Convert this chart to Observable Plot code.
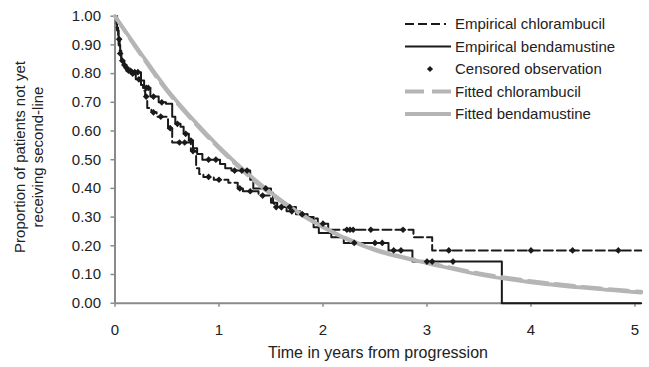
<!DOCTYPE html>
<html>
<head>
<meta charset="utf-8">
<script src="https://cdn.jsdelivr.net/npm/d3@7"></script>
<script src="https://cdn.jsdelivr.net/npm/@observablehq/plot@0.6"></script>
<style>
  html, body { margin: 0; padding: 0; background: #fff; }
  #chart svg { display: block; }
</style>
</head>
<body>
<div id="chart"></div>
<script>
// ---- Data ----
const xTicks = [0, 1, 2, 3, 4, 5];
const yTicks = [0, 0.1, 0.2, 0.3, 0.4, 0.5, 0.6, 0.7, 0.8, 0.9, 1.0];

// Empirical (Kaplan-Meier) bendamustine: step times and survival after each step
const bendaTime = [0, 0.02, 0.035, 0.05, 0.06, 0.09, 0.10, 0.13, 0.17, 0.25, 0.28, 0.34, 0.42, 0.49, 0.55, 0.58, 0.63, 0.66, 0.71, 0.75, 0.79, 0.84, 1.01, 1.06, 1.12, 1.30, 1.33, 1.50, 1.52, 1.56, 1.74, 1.85, 1.91, 1.96, 2.08, 2.20, 2.63, 2.86, 3.72, 5.06];
const bendaSurv = [1.0, 0.95, 0.90, 0.87, 0.845, 0.83, 0.82, 0.81, 0.805, 0.776, 0.75, 0.72, 0.70, 0.695, 0.65, 0.625, 0.615, 0.59, 0.567, 0.54, 0.52, 0.50, 0.485, 0.47, 0.462, 0.43, 0.40, 0.385, 0.35, 0.335, 0.31, 0.30, 0.265, 0.245, 0.23, 0.21, 0.184, 0.145, 0.0, 0.0];

// Empirical chlorambucil
const chlorTime = [0, 0.015, 0.03, 0.045, 0.06, 0.08, 0.11, 0.15, 0.20, 0.25, 0.27, 0.29, 0.31, 0.35, 0.40, 0.51, 0.55, 0.73, 0.78, 0.81, 0.85, 0.95, 1.09, 1.18, 1.23, 1.38, 1.50, 1.53, 1.65, 1.78, 1.85, 1.95, 2.05, 2.87, 3.05, 5.06];
const chlorSurv = [1.0, 0.96, 0.92, 0.88, 0.85, 0.83, 0.81, 0.80, 0.78, 0.76, 0.74, 0.72, 0.68, 0.665, 0.65, 0.61, 0.56, 0.53, 0.47, 0.45, 0.44, 0.43, 0.42, 0.40, 0.39, 0.375, 0.35, 0.335, 0.32, 0.31, 0.295, 0.277, 0.256, 0.23, 0.184, 0.184];

// Censored observation times
const bendaCens = [0.05, 0.07, 0.11, 0.15, 0.19, 0.22, 0.30, 0.32, 0.37, 0.45, 0.60, 0.68, 0.73, 0.90, 0.97, 1.15, 1.22, 1.27, 1.45, 1.60, 1.68, 1.80, 2.30, 2.50, 2.57, 2.68, 2.75, 3.00, 3.05, 3.25];
const chlorCens = [0.04, 0.09, 0.13, 0.17, 0.23, 0.30, 0.37, 0.44, 0.53, 0.62, 0.67, 0.75, 0.90, 1.00, 1.20, 1.30, 1.42, 1.55, 1.60, 1.70, 1.80, 2.00, 2.23, 2.26, 2.29, 2.46, 2.77, 3.21, 4.00, 4.40, 4.84];

// Fitted curves
const fitTime  = [0, 0.25, 0.5, 0.75, 1.0, 1.25, 1.5, 1.75, 2.0, 2.25, 2.5, 2.75, 3.0, 3.5, 4.0, 4.5, 5.06];
const fitBenda = [1.0, 0.87, 0.745, 0.64, 0.545, 0.46, 0.385, 0.32, 0.265, 0.22, 0.185, 0.16, 0.14, 0.10, 0.073, 0.054, 0.037];
const fitChlor = [1.0, 0.865, 0.74, 0.635, 0.54, 0.455, 0.38, 0.318, 0.265, 0.222, 0.188, 0.162, 0.142, 0.104, 0.077, 0.057, 0.04];

const legendLabels = ["Empirical chlorambucil", "Empirical bendamustine", "Censored observation", "Fitted chlorambucil", "Fitted bendamustine"];
const xLabel = "Time in years from progression";
const yLabelLines = ["Proportion of patients not yet", "receiving second-line"];

// ---- Build tables ----
const toRows = (t, s) => t.map((x, i) => ({x, y: s[i]}));
const benda = toRows(bendaTime, bendaSurv);
const chlor = toRows(chlorTime, chlorSurv);
const fitB = toRows(fitTime, fitBenda);
const fitC = toRows(fitTime, fitChlor);
const stepAt = (times, surv, t) => surv[Math.max(0, d3.bisectRight(times, t) - 1)];
const cens = [
  ...bendaCens.map(t => ({x: t, y: stepAt(bendaTime, bendaSurv, t)})),
  ...chlorCens.map(t => ({x: t, y: stepAt(chlorTime, chlorSurv, t)}))
];

const BLACK = "#1a1a1a", GRAY = "#b5b5b5", AXIS = "#8a8a8a", TEXT = "#222";
const FONT = "'Liberation Sans', Arial, Helvetica, sans-serif";

const chart = Plot.plot({
  width: 649,
  height: 367,
  marginLeft: 114.5,
  marginRight: 8.3,
  marginTop: 15.7,
  marginBottom: 64.3,
  style: {fontFamily: FONT, fontSize: "15px", color: TEXT, background: "#fff"},
  x: {domain: [0, 5.06], ticks: xTicks, tickFormat: d => String(d), tickSize: 4, tickPadding: 17, label: null},
  y: {domain: [0, 1], ticks: yTicks, tickFormat: d3.format(".2f"), tickSize: 4, tickPadding: 10, label: null},
  marks: [
    Plot.ruleY([0], {stroke: AXIS, strokeWidth: 2}),
    Plot.ruleX([0], {stroke: AXIS, strokeWidth: 2}),
    Plot.line(benda, {x: "x", y: "y", curve: "step-after", stroke: BLACK, strokeWidth: 2}),
    Plot.line(chlor, {x: "x", y: "y", curve: "step-after", stroke: BLACK, strokeWidth: 2, strokeDasharray: "9,4"}),
    Plot.line(fitB, {x: "x", y: "y", curve: "monotone-x", stroke: GRAY, strokeWidth: 3.8}),
    Plot.line(fitC, {x: "x", y: "y", curve: "monotone-x", stroke: GRAY, strokeWidth: 3.8, strokeDasharray: "19,8"}),
    Plot.dot(cens, {x: "x", y: "y", symbol: "diamond2", r: 3, fill: BLACK, stroke: "none"})
  ]
});

document.getElementById("chart").appendChild(chart);

const svg = d3.select(chart.tagName.toLowerCase() === "svg" ? chart : chart.querySelector("svg"));
svg.selectAll("[aria-label^='x-axis'] line, [aria-label^='y-axis'] line, [aria-label^='x-axis'] path, [aria-label^='y-axis'] path")
  .attr("stroke", AXIS).attr("stroke-width", 1.5);

// axis titles
svg.append("text")
  .attr("x", 378).attr("y", 358)
  .attr("text-anchor", "middle")
  .attr("font-family", FONT).attr("font-size", 16).attr("fill", TEXT)
  .text(xLabel);

yLabelLines.forEach((line, i) => {
  svg.append("text")
    .attr("transform", `translate(${25 + i * 18},157) rotate(-90)`)
    .attr("text-anchor", "middle")
    .attr("font-family", FONT).attr("font-size", 15).attr("fill", TEXT)
    .text(line);
});

// legend
const lg = svg.append("g").attr("font-family", FONT).attr("font-size", 15).attr("fill", TEXT).attr("text-anchor", "start");
const rowsY = [24, 46.5, 69, 91.5, 114];
const styles = [
  {stroke: BLACK, w: 2, dash: "9,4,9,4,9,4,2"},
  {stroke: BLACK, w: 2, dash: null},
  null,
  {stroke: GRAY, w: 3.8, dash: "19,8"},
  {stroke: GRAY, w: 3.8, dash: null}
];
legendLabels.forEach((lab, i) => {
  const y = rowsY[i];
  if (styles[i]) {
    const l = lg.append("line").attr("x1", 405).attr("x2", 451).attr("y1", y).attr("y2", y)
      .attr("stroke", styles[i].stroke).attr("stroke-width", styles[i].w);
    if (styles[i].dash) l.attr("stroke-dasharray", styles[i].dash);
  } else {
    lg.append("path").attr("d", d3.symbol(d3.symbolDiamond2, 24)()).attr("transform", `translate(430,${y})`).attr("fill", BLACK);
  }
  lg.append("text").attr("x", 455).attr("y", y + 5).attr("text-anchor", "start").text(lab);
});
</script>
</body>
</html>
